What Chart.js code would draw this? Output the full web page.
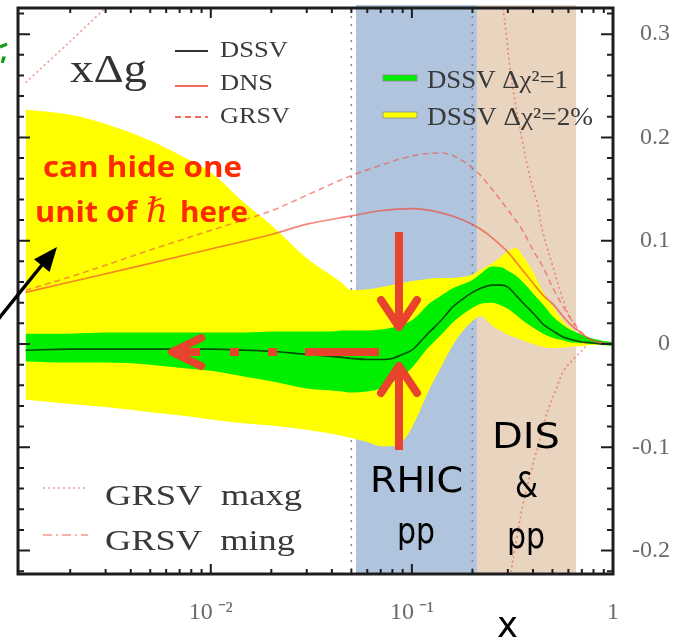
<!DOCTYPE html>
<html><head><meta charset="utf-8">
<script src="https://cdn.jsdelivr.net/npm/chart.js@4.4.1/dist/chart.umd.min.js"></script>
<style>html,body{margin:0;padding:0;background:#fff;}canvas{display:block;}</style>
</head><body>
<canvas id="c" width="674" height="640"></canvas>
<script>
// ---------- data ----------
const bandX = [0.0012,0.002,0.003,0.005,0.007,0.01,0.015,0.02,0.03,0.04,
  0.045,0.05,0.06,0.07,0.08,0.09,0.1,0.11,0.12,0.14,
  0.16,0.18,0.2,0.22,0.25,0.28,0.3,0.33,0.36,0.4,
  0.45,0.5,0.55,0.6,0.7,0.8,0.9,1.0];
const yellowUpper = [0.227,0.222,0.213,0.197,0.183,0.166,0.135,0.115,0.083,0.066,
  0.059,0.052,0.053,0.055,0.057,0.059,0.061,0.062,0.063,0.064,
  0.064,0.065,0.067,0.072,0.078,0.085,0.090,0.093,0.084,0.070,
  0.050,0.037,0.025,0.017,0.008,0.003,0.001,0.0];
const yellowLower = [-0.054,-0.058,-0.061,-0.066,-0.069,-0.073,-0.077,-0.079,-0.083,-0.087,
  -0.089,-0.091,-0.095,-0.099,-0.099,-0.094,-0.081,-0.064,-0.047,-0.022,
  -0.001,0.013,0.022,0.027,0.018,0.012,0.009,0.006,0.003,0.0,
  -0.003,-0.004,-0.004,-0.003,-0.002,-0.001,-0.001,-0.002];
const greenUpper = [0.010,0.010,0.011,0.011,0.011,0.011,0.011,0.012,0.012,0.012,
  0.013,0.013,0.013,0.014,0.016,0.019,0.023,0.030,0.038,0.047,
  0.054,0.058,0.062,0.068,0.075,0.074,0.071,0.066,0.059,0.049,
  0.038,0.027,0.020,0.015,0.009,0.005,0.003,0.002];
const greenLower = [-0.017,-0.018,-0.018,-0.020,-0.023,-0.026,-0.032,-0.036,-0.043,-0.045,
  -0.046,-0.047,-0.046,-0.043,-0.037,-0.031,-0.023,-0.013,-0.004,0.009,
  0.021,0.029,0.035,0.039,0.040,0.037,0.034,0.028,0.022,0.016,
  0.010,0.006,0.004,0.002,0.001,0.0,-0.001,-0.002];
const dssv = [-0.006,-0.005,-0.005,-0.005,-0.005,-0.005,-0.006,-0.007,-0.010,-0.012,
  -0.013,-0.014,-0.015,-0.015,-0.014,-0.010,-0.006,0.002,0.010,0.023,
  0.036,0.044,0.050,0.054,0.057,0.057,0.055,0.047,0.039,0.030,
  0.019,0.013,0.008,0.005,0.002,0.001,0.0,0.0];

const curveX = [0.0012,0.002,0.005,0.01,0.02,0.03,0.05,0.07,0.1,0.14,0.18,0.22,0.25,0.3,0.36,0.4,0.45,0.5,0.6,0.7,0.8,1.0];
const dns  = [0.050,0.060,0.078,0.092,0.106,0.116,0.124,0.129,0.131,0.127,0.120,0.111,0.103,0.089,0.070,0.059,0.047,0.039,0.021,0.010,0.003,0.0];
const grsv = [0.052,0.065,0.091,0.110,0.129,0.144,0.163,0.173,0.182,0.185,0.177,0.163,0.150,0.130,0.108,0.091,0.074,0.055,0.028,0.011,0.003,0.0];

const maxgLeftX = [0.0012,0.002,0.0035];
const maxgLeftY = [0.253,0.293,0.338];
const maxgRightX = [0.282,0.297,0.307,0.325,0.353,0.386,0.419,0.448,0.497,0.545,0.597,0.662,0.726,0.685,0.647,0.564,0.526,0.469,0.423,0.400,0.357,0.333,0.305];
const maxgRightY = [0.33,0.294,0.268,0.236,0.198,0.162,0.137,0.108,0.078,0.052,0.030,0.014,-0.003,-0.008,-0.013,-0.027,-0.042,-0.067,-0.100,-0.116,-0.155,-0.187,-0.23];

const regionEdges = [0.0527, 0.2106, 0.655];   // RHIC band | DIS & pp band
const dataRangeEdges = [0.05, 0.2];
const xTickValues = [0.01, 0.1, 1];
const xTickLabels = ['10\u2009\u207B\u00B2', '10\u2009\u207B\u00B9', '1'];
const yTickValues = [0.3, 0.2, 0.1, 0, -0.1, -0.2];
const yTickLabels = ['0.3', '0.2', '0.1', '0', '-0.1', '-0.2'];

// ---------- helpers ----------
const pts = (xs, ys) => xs.map((x, i) => ({x, y: ys[i]}));
function txt(ctx, s, x, y, font, color, width) {
  ctx.save();
  ctx.font = font; ctx.fillStyle = color; ctx.textAlign = 'left'; ctx.textBaseline = 'alphabetic';
  const w = ctx.measureText(s).width;
  ctx.translate(x, y);
  if (width) ctx.scale(width / w, 1);
  ctx.fillText(s, 0, 0);
  ctx.restore();
}
function seg(ctx, x1, y1, x2, y2, color, lw, dash) {
  ctx.save(); ctx.strokeStyle = color; ctx.lineWidth = lw; ctx.setLineDash(dash || []);
  ctx.beginPath(); ctx.moveTo(x1, y1); ctx.lineTo(x2, y2); ctx.stroke(); ctx.restore();
}

const PINK = 'rgba(236,80,70,0.6)';
const bgPlugin = {
  id: 'bg',
  beforeDatasetsDraw(chart) {
    const {ctx, chartArea: a, scales: {x}} = chart;
    const cols = ['#b1c4de', '#e8d4bf'];
    ctx.save();
    for (let i = 0; i < regionEdges.length - 1; i++) {
      const x1 = x.getPixelForValue(regionEdges[i]), x2 = x.getPixelForValue(regionEdges[i + 1]);
      ctx.fillStyle = cols[i];
      ctx.fillRect(x1, a.top - 3, x2 - x1, a.bottom - a.top + 3);
    }
    ctx.restore();
    dataRangeEdges.forEach(v => {
      const px = x.getPixelForValue(v);
      seg(ctx, px, a.top, px, a.bottom, '#8a8a8a', 1.6, [2, 6]);
    });
  }
};

const overlayPlugin = {
  id: 'overlay',
  afterDatasetsDraw(chart) {
    const {ctx, chartArea: a, scales: {x, y}} = chart;
    // frame
    ctx.save();
    ctx.strokeStyle = '#1e1e1e'; ctx.lineWidth = 3;
    ctx.strokeRect(a.left, a.top, a.right - a.left, a.bottom - a.top);
    ctx.lineWidth = 2;
    for (let k = -11; k <= 16; k++) {
      const v = k * 0.02, py = y.getPixelForValue(v);
      if (py < a.top + 1 || py > a.bottom - 1) continue;
      const L = (k % 5 === 0) ? 12 : 6;
      ctx.beginPath(); ctx.moveTo(a.left, py); ctx.lineTo(a.left + L, py);
      ctx.moveTo(a.right, py); ctx.lineTo(a.right - L, py); ctx.stroke();
    }
    for (let e = -3; e <= 0; e++) {
      for (let m = 1; m <= 9; m++) {
        const v = m * Math.pow(10, e);
        if (v < x.min || v > x.max) continue;
        const px = x.getPixelForValue(v);
        const L = (m === 1) ? 10 : 5;
        ctx.beginPath(); ctx.moveTo(px, a.bottom); ctx.lineTo(px, a.bottom - L);
        ctx.moveTo(px, a.top); ctx.lineTo(px, a.top + L); ctx.stroke();
        if (e === 0) break;
      }
    }
    ctx.restore();

    const G = '#3a3a3a';
    const SERIF = "'Liberation Serif', 'DejaVu Serif', serif";
    txt(ctx, 'x\u0394g', 70, 82, '40px ' + SERIF, '#333', 77);
    seg(ctx, 175, 51, 208, 51, '#333', 2);
    txt(ctx, 'DSSV', 220, 57, '23px ' + SERIF, G, 68);
    seg(ctx, 175, 86, 208, 86, 'rgba(240,80,60,0.85)', 2);
    txt(ctx, 'DNS', 220, 90, '23px ' + SERIF, G, 53);
    seg(ctx, 175, 117, 208, 117, 'rgba(240,80,60,0.85)', 2, [6, 4]);
    txt(ctx, 'GRSV', 220, 123, '23px ' + SERIF, G, 70);
    ctx.save();
    ctx.fillStyle = '#00ee00'; ctx.fillRect(383, 75, 34, 6);
    ctx.fillStyle = '#ffff00'; ctx.fillRect(383, 112, 34, 6);
    ctx.strokeStyle = '#888'; ctx.lineWidth = 0.8;
    ctx.strokeRect(383, 75, 34, 6); ctx.strokeRect(383, 112, 34, 6);
    ctx.restore();
    txt(ctx, 'DSSV \u0394\u03C7\u00B2=1', 427, 88, '25px ' + SERIF, G, 141);
    txt(ctx, 'DSSV \u0394\u03C7\u00B2=2%', 427, 125, '25px ' + SERIF, G, 166);
    seg(ctx, 43, 488, 88, 488, PINK, 1.6, [2, 3]);
    txt(ctx, 'GRSV  maxg', 105, 505, '30px ' + SERIF, G, 197);
    seg(ctx, 43, 535, 88, 535, PINK, 1.6, [9, 4, 2, 4]);
    txt(ctx, 'GRSV  ming', 105, 550, '30px ' + SERIF, G, 190);

    const RED = '#ff2a00';
    const BOLD = "bold 29px 'Open Sans', 'DejaVu Sans', sans-serif";
    txt(ctx, 'can hide one', 43, 177, BOLD, RED, 199);
    txt(ctx, 'unit of', 35, 222, BOLD, RED, 102);
    txt(ctx, '\u210F', 146, 222, "italic 34px 'DejaVu Serif', serif", RED, 22);
    txt(ctx, 'here', 180, 222, BOLD, RED, 68);

    ctx.save();
    ctx.strokeStyle = '#000'; ctx.fillStyle = '#000'; ctx.lineWidth = 3.5;
    ctx.beginPath(); ctx.moveTo(-4, 322); ctx.lineTo(46, 260); ctx.stroke();
    const tx = 57, ty = 247, ux = 0.633, uy = -0.778, nx = 0.778, ny = 0.633, hl = 24, hw = 10;
    const bx = tx - hl * ux, by = ty - hl * uy;
    ctx.beginPath(); ctx.moveTo(tx, ty);
    ctx.lineTo(bx + hw * nx, by + hw * ny); ctx.lineTo(bx - hw * nx, by - hw * ny); ctx.closePath(); ctx.fill();
    ctx.restore();

    const AR = '#e8432c';
    ctx.save();
    ctx.fillStyle = AR; ctx.strokeStyle = AR; ctx.lineWidth = 8; ctx.lineCap = 'round'; ctx.lineJoin = 'round';
    ctx.fillRect(395, 232, 8, 92);
    ctx.beginPath(); ctx.moveTo(381, 300); ctx.lineTo(399, 327); ctx.lineTo(417, 300); ctx.stroke();
    ctx.fillRect(395, 368, 8, 82);
    ctx.beginPath(); ctx.moveTo(381, 393); ctx.lineTo(399, 366); ctx.lineTo(417, 393); ctx.stroke();
    ctx.beginPath(); ctx.moveTo(201, 338); ctx.lineTo(172, 352); ctx.lineTo(201, 366); ctx.stroke();
    ctx.fillRect(176, 348, 24, 8);
    ctx.fillRect(230, 348, 9, 8);
    ctx.fillRect(268, 348, 9, 8);
    ctx.fillRect(305, 348, 74, 8);
    ctx.restore();

    const HAND = "36px 'DejaVu Sans', sans-serif";
    txt(ctx, 'RHIC', 370, 492, HAND, '#000', 93);
    txt(ctx, 'pp', 397, 543, HAND, '#000', 38);
    txt(ctx, 'DIS', 492, 448, HAND, '#000', 68);
    txt(ctx, '&', 515, 497, HAND, '#000', 23);
    txt(ctx, 'pp', 507, 548, HAND, '#000', 38);
    txt(ctx, 'x', 497, 637, HAND, '#000', 21);
    txt(ctx, ',', 0, 60, "bold 26px 'Open Sans', sans-serif", '#169a16');
    seg(ctx, 0, 47, 7, 44, '#169a16', 3);
  }
};

const lineBase = {pointRadius: 0, fill: false, cubicInterpolationMode: 'monotone'};
new Chart(document.getElementById('c'), {
  type: 'line',
  data: {
    datasets: [
      {...lineBase, label: 'GRSV maxg', data: pts(maxgLeftX, maxgLeftY), borderColor: PINK, borderWidth: 1.6, borderDash: [2, 3], cubicInterpolationMode: 'default', tension: 0.3},
      {...lineBase, label: 'GRSV maxg r', data: pts(maxgRightX, maxgRightY), borderColor: PINK, borderWidth: 1.6, borderDash: [2, 3], cubicInterpolationMode: 'default', tension: 0.35},
      {...lineBase, label: 'GRSV', data: pts(curveX, grsv), borderColor: PINK, borderWidth: 1.6, borderDash: [6, 4]},
      {...lineBase, label: 'DNS', data: pts(curveX, dns), borderColor: 'rgba(238,70,50,0.65)', borderWidth: 1.7},
      {...lineBase, label: 'DSSV', data: pts(bandX, dssv), borderColor: 'rgba(0,40,0,0.8)', borderWidth: 1.6},
      {...lineBase, label: 'DSSV chi2=1 up', data: pts(bandX, greenUpper), borderWidth: 0, borderColor: 'rgba(0,0,0,0)', backgroundColor: '#00ee00', fill: '+1'},
      {...lineBase, label: 'DSSV chi2=1 lo', data: pts(bandX, greenLower), borderWidth: 0, borderColor: 'rgba(0,0,0,0)'},
      {...lineBase, label: 'DSSV chi2=2% up', data: pts(bandX, yellowUpper), borderWidth: 0, borderColor: 'rgba(0,0,0,0)', backgroundColor: '#ffff00', fill: '+1'},
      {...lineBase, label: 'DSSV chi2=2% lo', data: pts(bandX, yellowLower), borderWidth: 0, borderColor: 'rgba(0,0,0,0)'}
    ]
  },
  options: {
    responsive: false, animation: false,
    layout: {padding: {left: 18, top: 8, right: 4, bottom: 0}},
    plugins: {legend: {display: false}, tooltip: {enabled: false}},
    scales: {
      x: {
        type: 'logarithmic', min: 0.0011, max: 1, position: 'bottom',
        grid: {display: false}, border: {display: false},
        afterBuildTicks: s => { s.ticks = xTickValues.map(v => ({value: v})); },
        afterFit: s => { s.height = 66; s.paddingLeft = 0; s.paddingRight = 0; },
        ticks: {autoSkip: false, maxRotation: 0, padding: 16, color: '#6a6a6a',
          font: {family: "'Liberation Serif', serif", size: 24},
          callback: (v, i) => xTickLabels[i]}
      },
      y: {
        type: 'linear', position: 'right', min: -0.2227, max: 0.3253,
        grid: {display: false}, border: {display: false},
        afterBuildTicks: s => { s.ticks = yTickValues.map(v => ({value: v})); },
        afterFit: s => { s.width = 57; s.paddingTop = 0; s.paddingBottom = 0; },
        ticks: {crossAlign: 'far', padding: 10, color: '#6a6a6a',
          font: {family: "'Liberation Serif', serif", size: 24},
          callback: (v, i) => yTickLabels[i]}
      }
    }
  },
  plugins: [bgPlugin, overlayPlugin]
});
</script>
</body></html>
